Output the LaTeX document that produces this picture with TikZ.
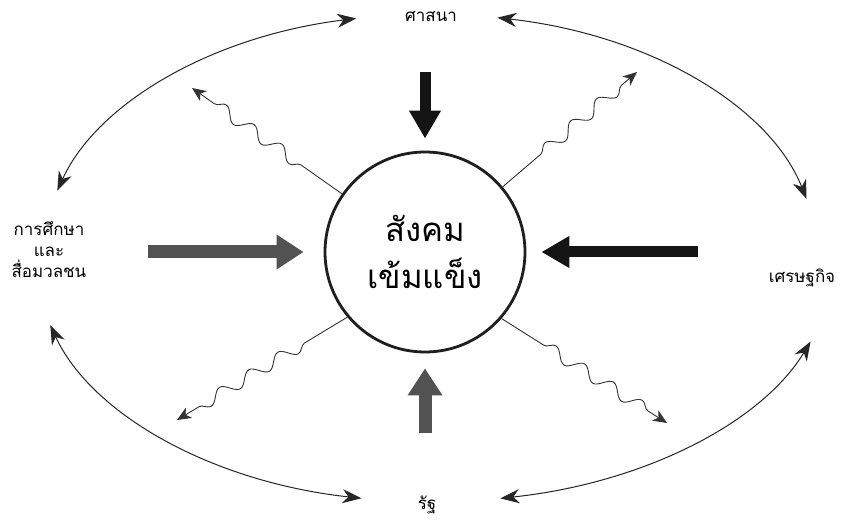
\documentclass[tikz,border=0pt]{standalone}
\usepackage{fontspec}
\newfontfamily\thaifont[Script=Thai]{Loma}
\usetikzlibrary{arrows.meta,decorations.pathmorphing}
\begin{document}
\begin{tikzpicture}[x=1bp,y=-1bp,
  lbl/.style={font=\thaifont\fontsize{17}{21}\selectfont, align=center, inner sep=0pt},
  bigblack/.style={line width=11bp, draw=black!92, -{Triangle[length=28bp,width=30bp]}},
  biggray/.style={line width=13bp, draw=black!68, -{Triangle[length=27bp,width=33bp]}},
  wave/.style={draw=black!80, line width=0.9bp, -{Stealth[length=14bp,width=12bp,inset=4bp]},
    decorate, decoration={snake, amplitude=6bp, segment length=34bp, pre length=50bp, post length=16bp}},
  link/.style={draw=black!85, line width=1bp,
    {Stealth[length=19bp,width=14bp,inset=6bp]}-{Stealth[length=19bp,width=14bp,inset=6bp]}}
]
\useasboundingbox (0,0) rectangle (852,520);
\fill[white] (0,0) rectangle (852,520);

% central circle
\node[circle, draw=black!88, line width=2.8bp, minimum size=200bp, inner sep=0pt, align=center,
  font=\thaifont\fontsize{33}{48}\selectfont] (soc) at (425,252) {สังคม\\เข้มแข็ง};

% labels
\node[lbl] (rel) at (431,16) {ศาสนา};
\node[lbl] (edu) at (49,250) {การศึกษา\\และ\\สื่อมวลชน};
\node[lbl] (eco) at (802,278) {เศรษฐกิจ};
\node[lbl] (state) at (427,505) {รัฐ};

% thick arrows into the circle
\coordinate (tTop) at (425,72);
\coordinate (tLeft) at (148,252);
\coordinate (tRight) at (698,252);
\coordinate (tBot) at (425,433);
\draw[bigblack, shorten >=12bp] (tTop) -- (soc.north);
\draw[biggray, shorten >=20bp] (tLeft) -- (soc.west);
\draw[bigblack, shorten >=15bp] (tRight) -- (soc.east);
\draw[biggray, shorten >=15bp] (tBot) -- (soc.south);

% wavy arrows out of the circle
\coordinate (wUL) at (192,88);
\coordinate (wUR) at (637,72);
\coordinate (wLL) at (177,420);
\coordinate (wLR) at (667,423);
\draw[wave] (soc.145) -- (wUL);
\draw[wave] (soc.40) -- (wUR);
\draw[wave] (soc.220) -- (wLL);
\draw[wave] (soc.319) -- (wLR);

% curved double arrows between the outer labels
\coordinate (aTL) at (57.3,190.7);
\coordinate (aTR) at (497.4,17.7);
\coordinate (aBR) at (810.6,341.5);
\coordinate (aBL) at (361.4,498.3);
\draw[link] (aTL) arc[start angle=196, end angle=259, x radius=388, y radius=244];
\draw[link] (aTR) arc[start angle=280, end angle=346, x radius=388, y radius=244];
\draw[link] (aBR) arc[start angle=20, end angle=80, x radius=405, y radius=244];
\draw[link] (aBL) arc[start angle=100, end angle=164, x radius=395, y radius=244];
\end{tikzpicture}
\end{document}
